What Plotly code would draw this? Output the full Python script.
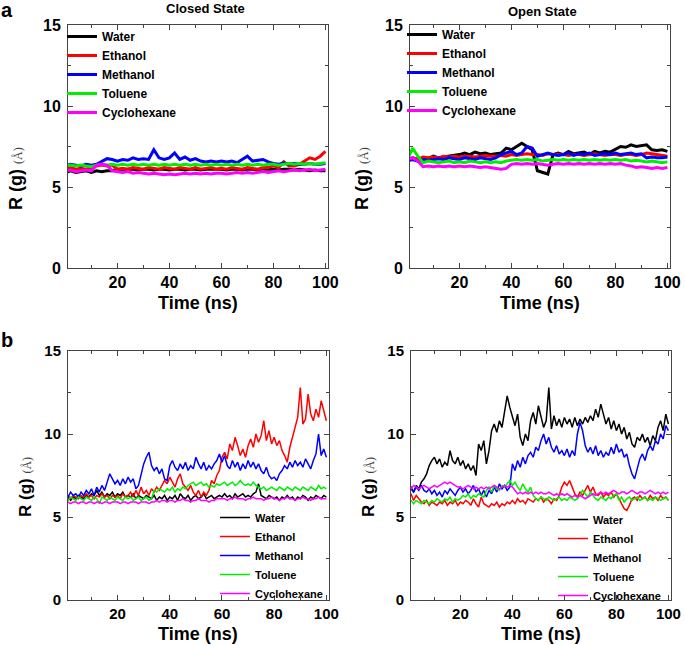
import plotly.graph_objects as go

# time axes (ns)
t_a = list(range(0, 101, 2))
t_b = list(range(0, 101))

solvents = ["Water", "Ethanol", "Methanol", "Toluene", "Cyclohexane"]
colors = ["#000000", "#ff0000", "#0000ff", "#00ee00", "#ff00ff"]

# ---- panel a, closed state (Rg in Angstrom, every 2 ns)
closed_a_water = [5.9, 6.0, 5.9, 5.95, 6.0, 5.9, 6.0, 5.95, 6.0, 6.0,
                  6.1, 6.05, 6.1, 6.1, 6.05, 6.1, 6.1, 6.05, 6.1, 6.1,
                  6.05, 6.1, 6.1, 6.05, 6.1, 6.1, 6.05, 6.1, 6.1, 6.1,
                  6.1, 6.05, 6.1, 6.1, 6.05, 6.1, 6.1, 6.05, 6.1, 6.1,
                  6.1, 6.05, 6.1, 6.1, 6.05, 6.1, 6.05, 6.0, 6.05, 6.0, 6.0]
closed_a_ethanol = [6.1, 6.2, 6.1, 6.15, 6.1, 6.2, 6.3, 6.35, 6.3, 6.35,
                    6.1, 6.15, 6.1, 6.2, 6.15, 6.1, 6.2, 6.15, 6.1, 6.2,
                    6.15, 6.1, 6.2, 6.15, 6.1, 6.2, 6.1, 6.15, 6.2, 6.1,
                    6.15, 6.1, 6.2, 6.15, 6.1, 6.2, 6.15, 6.1, 6.2, 6.2,
                    6.3, 6.2, 6.55, 6.3, 6.3, 6.4, 6.6, 6.8, 6.7, 6.9, 7.2]
closed_a_methanol = [6.3, 6.4, 6.35, 6.3, 6.4, 6.35, 6.4, 6.6, 6.75, 6.7,
                     6.6, 6.7, 6.65, 6.8, 6.7, 6.75, 6.7, 7.3, 6.8, 6.7,
                     6.8, 7.1, 6.7, 6.85, 6.65, 6.75, 6.6, 6.55, 6.6, 6.55,
                     6.6, 6.55, 6.6, 6.5, 6.7, 6.9, 6.6, 6.65, 6.7, 6.55,
                     6.45, 6.4, 6.5, 6.4, 6.45, 6.4, 6.4, 6.45, 6.4, 6.4, 6.45]
closed_a_toluene = [6.3, 6.35, 6.3, 6.35, 6.3, 6.25, 6.35, 6.4, 6.35, 6.4,
                    6.35, 6.4, 6.35, 6.4, 6.35, 6.4, 6.35, 6.4, 6.35, 6.4,
                    6.35, 6.4, 6.35, 6.4, 6.35, 6.4, 6.35, 6.4, 6.35, 6.4,
                    6.35, 6.4, 6.35, 6.4, 6.35, 6.4, 6.35, 6.4, 6.35, 6.4,
                    6.4, 6.35, 6.4, 6.45, 6.4, 6.45, 6.4, 6.45, 6.4, 6.45, 6.5]
closed_a_cyclohexane = [6.0, 6.05, 5.95, 6.0, 6.05, 6.0, 6.35, 6.4, 6.35, 6.0,
                        5.95, 5.9, 5.95, 5.85, 5.9, 5.85, 5.8, 5.85, 5.8, 5.75,
                        5.8, 5.75, 5.8, 5.85, 5.8, 5.85, 5.8, 5.85, 5.8, 5.85,
                        5.85, 5.8, 5.85, 5.9, 5.85, 5.9, 5.85, 5.9, 5.95, 5.9,
                        5.95, 6.0, 5.95, 6.0, 6.05, 6.0, 6.05, 6.1, 6.0, 6.05, 6.1]

# ---- panel a, open state
open_a_water = [6.6, 6.8, 6.7, 6.8, 6.75, 6.9, 6.8, 6.85, 6.9, 6.95,
                7.0, 7.1, 7.0, 7.15, 7.05, 7.1, 7.0, 7.05, 7.1, 7.4,
                7.3, 7.5, 7.7, 7.5, 7.3, 6.0, 5.9, 5.8, 7.0, 7.1,
                7.0, 7.2, 7.05, 7.1, 7.15, 7.0, 7.2, 7.1, 7.2, 7.15,
                7.3, 7.5, 7.45, 7.6, 7.5, 7.55, 7.6, 7.3, 7.25, 7.3, 7.2]
open_a_ethanol = [6.7, 6.8, 6.7, 6.85, 6.8, 6.85, 6.8, 6.9, 6.85, 6.9,
                  6.85, 6.9, 6.9, 6.85, 6.9, 6.95, 6.9, 6.9, 6.95, 6.9,
                  7.0, 6.95, 7.0, 7.05, 7.0, 7.0, 6.95, 7.05, 7.0, 7.0,
                  7.0, 6.95, 7.0, 7.0, 6.95, 7.0, 7.05, 7.0, 6.95, 7.0,
                  7.0, 6.95, 7.0, 7.0, 6.95, 7.0, 7.1, 7.05, 7.0, 6.95, 6.9]
open_a_methanol = [6.6, 6.7, 6.6, 6.7, 6.65, 6.7, 6.75, 6.7, 6.8, 6.75,
                   6.7, 6.8, 6.75, 6.7, 6.8, 6.75, 6.7, 6.8, 7.0, 7.1,
                   7.2, 7.0, 7.1, 7.5, 7.4, 6.9, 7.0, 7.1, 7.0, 6.95,
                   7.0, 7.1, 6.95, 7.05, 7.0, 7.1, 6.95, 7.0, 7.05, 7.0,
                   7.1, 7.0, 7.05, 7.1, 7.0, 7.05, 6.8, 6.85, 6.8, 6.8, 6.85]
open_a_toluene = [6.7, 7.4, 6.9, 6.5, 6.6, 6.55, 6.5, 6.55, 6.6, 6.5,
                  6.55, 6.5, 6.6, 6.55, 6.5, 6.55, 6.5, 6.55, 6.5, 6.6,
                  6.65, 6.7, 6.65, 6.7, 6.65, 6.7, 6.6, 6.65, 6.7, 6.65,
                  6.7, 6.65, 6.7, 6.65, 6.7, 6.65, 6.7, 6.65, 6.7, 6.65,
                  6.7, 6.65, 6.7, 6.6, 6.65, 6.6, 6.55, 6.6, 6.55, 6.5, 6.55]
open_a_cyclohexane = [6.7, 6.8, 6.6, 6.25, 6.3, 6.25, 6.3, 6.25, 6.3, 6.25,
                      6.3, 6.25, 6.3, 6.25, 6.2, 6.25, 6.2, 6.15, 6.1, 6.15,
                      6.4, 6.45, 6.4, 6.45, 6.4, 6.45, 6.4, 6.35, 6.4, 6.45,
                      6.4, 6.45, 6.4, 6.45, 6.4, 6.45, 6.4, 6.45, 6.4, 6.45,
                      6.4, 6.45, 6.35, 6.3, 6.2, 6.25, 6.2, 6.15, 6.2, 6.15, 6.2]

# ---- panel b, closed state (every 1 ns)
closed_b_water = [6.1, 6.2, 6.0, 6.2, 6.1, 6.3, 6.2, 6.1, 6.3, 6.2,
                  6.4, 6.3, 6.6, 6.3, 6.5, 6.2, 6.4, 6.3, 6.5, 6.2,
                  6.4, 6.3, 6.5, 6.2, 6.3, 6.2, 6.4, 6.1, 6.3, 6.2,
                  6.1, 6.3, 6.2, 6.1, 6.3, 6.0, 6.2, 6.1, 6.3, 6.0,
                  6.2, 6.1, 6.3, 6.0, 6.4, 6.2, 6.1, 6.3, 6.0, 6.2,
                  6.3, 6.1, 6.2, 6.4, 6.1, 6.2, 6.3, 6.1, 6.2, 6.3,
                  6.2, 6.4, 6.2, 6.3, 6.1, 6.4, 6.2, 6.3, 6.4, 6.2,
                  6.3, 6.2, 6.4, 6.5, 7.0, 6.3, 6.2, 6.1, 6.3, 6.2,
                  6.1, 6.2, 6.0, 6.2, 6.1, 6.3, 6.1, 6.2, 6.0, 6.2,
                  6.1, 6.3, 6.2, 6.0, 6.2, 6.1, 6.3, 6.2, 6.1, 6.3, 6.2]
closed_b_ethanol = [6.2, 6.3, 6.1, 6.3, 6.2, 6.1, 6.3, 6.2, 6.4, 6.2,
                    6.3, 6.1, 6.3, 6.2, 6.4, 6.2, 6.3, 6.1, 6.3, 6.2,
                    6.3, 6.1, 6.4, 6.2, 6.3, 6.5, 6.2, 6.6, 6.3, 6.8,
                    6.4, 6.6, 6.3, 6.7, 6.5, 6.8, 6.6, 6.9, 7.2, 7.0,
                    7.4, 7.1, 6.8, 7.3, 7.6, 7.0, 6.8, 6.6, 6.9, 6.5,
                    6.3, 6.6, 6.2, 6.5, 6.3, 6.6, 7.2, 7.0, 7.5, 7.8,
                    8.6, 8.9, 8.5, 9.4, 9.0, 9.8, 9.3, 8.7, 9.1, 8.6,
                    9.3, 9.7, 9.2, 10.0, 9.5, 9.9, 10.8, 9.6, 10.2, 9.4,
                    9.8, 9.3, 9.6, 9.0, 8.7, 8.3, 9.2, 9.9, 10.4, 11.0,
                    12.8, 10.6, 10.9, 12.4, 11.2, 10.8, 11.5, 11.0, 12.0, 11.4, 10.8]
closed_b_methanol = [6.4, 6.2, 6.5, 6.3, 6.4, 6.2, 6.5, 6.3, 6.6, 6.4,
                     6.7, 6.3, 6.8, 6.5, 6.9, 6.6, 7.1, 7.6, 7.3, 7.0,
                     7.2, 6.9, 7.3, 7.0, 7.4, 7.1, 7.3, 6.7, 6.9, 7.6,
                     8.2, 8.6, 8.9, 8.1, 7.8, 8.0, 7.6, 7.9, 7.3, 7.2,
                     8.1, 8.4, 8.0, 7.8, 8.2, 7.9, 8.3, 7.8, 8.1, 7.9,
                     8.6, 8.2, 7.9, 8.3, 7.8, 8.1, 7.9, 8.2, 8.4, 8.8,
                     8.3, 8.7, 8.1, 7.9, 8.4, 8.0, 8.3, 7.8, 8.2, 7.9,
                     8.4, 8.0, 8.3, 7.9, 8.2, 7.8, 7.6, 8.0, 7.5, 7.3,
                     7.4, 7.2, 7.6, 7.8, 8.1, 7.9, 8.3, 8.0, 8.4, 8.1,
                     8.3, 8.0, 8.5, 8.2, 7.9, 8.4, 8.8, 10.0, 8.7, 9.1, 8.6]
closed_b_toluene = [6.1, 6.0, 6.2, 6.1, 6.0, 6.2, 6.1, 6.0, 6.2, 6.1,
                    6.0, 6.2, 6.1, 5.8, 6.2, 6.1, 6.0, 6.2, 6.1, 6.0,
                    6.2, 6.1, 6.0, 6.2, 6.1, 6.2, 6.0, 6.1, 6.2, 6.0,
                    6.1, 6.2, 6.0, 6.1, 6.6, 6.5, 6.7, 6.6, 6.5, 6.7,
                    6.6, 6.8, 6.5, 6.7, 6.6, 6.8, 6.7, 6.9, 7.0, 7.1,
                    6.9, 7.0, 7.1, 6.9, 7.0, 6.8, 6.9, 6.8, 7.0, 6.9,
                    7.0, 7.1, 6.9, 7.0, 7.1, 6.9, 7.0, 7.2, 7.0, 6.9,
                    7.0, 6.9, 7.1, 6.9, 6.8, 6.7, 6.8, 6.6, 6.7, 6.8,
                    6.7, 6.6, 6.8, 6.7, 6.6, 6.8, 6.7, 6.6, 6.8, 6.7,
                    6.6, 6.8, 6.7, 6.6, 6.8, 6.7, 6.6, 6.9, 6.7, 6.8, 6.7]
closed_b_cyclohexane = [5.8, 5.9, 5.8, 5.9, 5.9, 5.8, 5.9, 5.9, 5.8, 5.9,
                        5.9, 5.8, 5.9, 5.9, 5.8, 5.9, 5.9, 5.8, 5.9, 5.9,
                        5.9, 5.8, 5.9, 5.9, 5.8, 5.9, 5.9, 5.9, 5.8, 5.9,
                        5.9, 5.9, 5.8, 5.9, 5.9, 6.0, 5.9, 6.0, 6.0, 5.9,
                        6.0, 6.0, 5.9, 6.0, 6.0, 6.1, 6.0, 6.0, 5.9, 6.0,
                        6.0, 6.1, 6.0, 6.0, 6.0, 5.9, 6.0, 6.0, 6.1, 6.1,
                        6.1, 6.1, 6.0, 6.1, 6.1, 6.2, 6.1, 6.1, 6.1, 6.0,
                        6.1, 6.1, 6.2, 6.1, 6.1, 6.1, 6.0, 6.1, 6.1, 6.2,
                        6.1, 6.1, 6.0, 6.1, 6.1, 6.2, 6.1, 6.1, 6.0, 6.1,
                        6.1, 6.2, 6.1, 6.1, 6.0, 6.1, 6.1, 6.2, 6.1, 6.1, 6.1]

# ---- panel b, open state
open_b_water = [6.6, 6.8, 6.5, 6.9, 6.7, 7.1, 7.3, 7.6, 8.1, 8.4,
                8.6, 8.2, 8.5, 8.0, 8.3, 8.1, 9.0, 8.4, 8.2, 8.6,
                8.1, 8.4, 7.9, 8.2, 7.8, 8.1, 7.5, 9.4, 9.0, 9.6,
                8.2, 9.0, 10.2, 10.6, 10.1, 10.8, 10.4, 11.5, 12.3, 11.6,
                11.0, 10.5, 11.2, 9.8, 9.3, 10.0, 9.6, 10.8, 11.3, 10.6,
                11.7, 11.0, 10.4, 10.8, 12.8, 10.3, 11.1, 10.5, 10.9, 10.4,
                11.0, 10.6, 10.9, 10.4, 11.0, 10.5, 10.9, 10.6, 11.0, 10.7,
                11.1, 10.8, 11.5, 11.0, 11.8, 11.2, 10.6, 11.0, 10.3, 10.8,
                10.2, 10.6, 10.0, 10.4, 9.7, 10.1, 9.4, 9.2, 9.8, 9.6,
                10.0, 9.5, 9.8, 9.3, 9.9, 9.6, 10.4, 10.8, 10.2, 11.2, 10.6]
open_b_ethanol = [6.2, 6.4, 6.0, 6.3, 6.1, 5.9, 5.8, 6.0, 5.7, 5.9,
                  5.8, 5.7, 5.9, 5.8, 6.0, 5.7, 5.9, 5.8, 6.0, 5.7,
                  5.9, 5.8, 6.0, 5.9, 5.7, 6.1, 5.8, 5.6, 6.2, 5.8,
                  5.7, 5.6, 5.8, 5.7, 5.9, 5.6, 5.8, 5.7, 5.9, 5.8,
                  6.0, 5.8, 6.1, 5.9, 6.0, 5.8, 6.1, 6.0, 5.9, 6.1,
                  6.0, 6.2, 5.9, 6.1, 6.0, 5.8, 6.1, 6.0, 6.3, 6.8,
                  7.1, 6.9, 7.2, 6.8, 6.4, 6.2, 6.5, 6.3, 6.6, 6.9,
                  6.5, 6.8, 6.4, 6.3, 6.5, 6.2, 6.4, 6.3, 6.5, 6.2,
                  6.4, 6.1, 5.8, 5.5, 5.4, 5.7, 6.1, 6.2, 6.0, 6.3,
                  6.1, 6.2, 6.0, 6.3, 6.1, 6.2, 6.0, 6.3, 6.1, 6.2, 6.0]
open_b_methanol = [6.4, 6.7, 6.5, 6.8, 6.6, 6.9, 6.6, 6.5, 6.7, 6.4,
                   6.6, 6.3, 6.5, 6.2, 6.6, 6.4, 6.7, 6.5, 6.3, 6.6,
                   6.8, 6.5, 6.7, 6.4, 6.6, 6.9, 6.5, 6.7, 6.3, 6.6,
                   6.2, 6.6, 6.4, 6.8, 6.5, 7.0, 6.7, 6.9, 6.6, 6.8,
                   8.2, 7.8, 8.4, 8.0, 8.6, 8.2, 8.7, 8.9, 8.6, 9.2,
                   9.0, 9.6, 10.0, 9.4, 9.8, 9.2, 8.9, 9.3, 8.8, 9.0,
                   8.7, 9.1, 8.6, 9.0, 8.7, 10.0, 10.7, 10.2, 9.3, 8.9,
                   9.2, 8.8, 9.3, 8.7, 9.0, 8.6, 8.9, 8.7, 9.2, 8.8,
                   9.4, 8.9, 9.1, 8.6, 8.8, 8.1, 7.6, 7.3, 8.0, 8.5,
                   8.8, 8.4, 9.0, 9.3, 9.0, 9.6, 9.4, 10.0, 9.7, 10.5, 10.2]
open_b_toluene = [5.9, 6.0, 5.8, 6.0, 5.9, 5.8, 6.0, 5.9, 5.8, 6.0,
                  5.9, 6.1, 6.0, 5.9, 6.1, 6.0, 6.2, 5.9, 6.1, 6.0,
                  6.1, 6.3, 6.2, 6.4, 6.1, 6.3, 6.2, 6.4, 6.3, 6.2,
                  6.6, 6.8, 6.5, 6.9, 6.7, 6.6, 6.9, 6.8, 7.0, 7.2,
                  6.9, 7.1, 6.8, 6.6, 7.0, 6.7, 6.5, 6.8, 6.3, 6.1,
                  6.0, 6.2, 6.1, 6.0, 6.2, 6.1, 6.0, 6.1, 6.2, 6.0,
                  6.1, 6.0, 6.2, 6.1, 6.0, 6.1, 6.3, 6.6, 6.4, 6.2,
                  6.5, 6.3, 6.1, 6.0, 6.2, 6.1, 6.0, 6.2, 6.1, 6.3,
                  6.4, 6.0, 6.2, 5.9, 6.1, 6.2, 6.0, 6.1, 6.2, 6.0,
                  6.1, 6.2, 6.0, 6.1, 6.0, 6.2, 6.1, 6.0, 6.1, 6.2, 6.0]
open_b_cyclohexane = [6.8, 6.7, 6.9, 6.8, 6.7, 6.8, 6.9, 6.8, 6.7, 6.8,
                      6.9, 6.8, 6.9, 7.0, 7.1, 7.0, 7.1, 7.0, 6.9, 6.8,
                      6.8, 6.7, 6.8, 6.9, 6.8, 6.7, 6.8, 6.7, 6.8, 6.7,
                      6.8, 6.7, 6.8, 6.9, 6.8, 6.7, 6.8, 6.9, 6.8, 6.9,
                      6.8, 6.6, 6.4, 6.5, 6.4, 6.5, 6.4, 6.5, 6.4, 6.5,
                      6.4, 6.5, 6.4, 6.4, 6.5, 6.4, 6.3, 6.4, 6.3, 6.4,
                      6.3, 6.4, 6.3, 6.2, 6.3, 6.2, 6.3, 6.2, 6.1, 6.2,
                      6.3, 6.4, 6.3, 6.4, 6.5, 6.4, 6.5, 6.4, 6.5, 6.6,
                      6.5, 6.4, 6.5, 6.5, 6.4, 6.5, 6.6, 6.5, 6.4, 6.5,
                      6.5, 6.4, 6.5, 6.6, 6.5, 6.4, 6.5, 6.4, 6.5, 6.4, 6.5]

panels = [
    # (x, series, axis suffix, legend name, line width)
    (t_a, [closed_a_water, closed_a_ethanol, closed_a_methanol, closed_a_toluene, closed_a_cyclohexane], "", "legend", 3),
    (t_a, [open_a_water, open_a_ethanol, open_a_methanol, open_a_toluene, open_a_cyclohexane], "2", "legend2", 3),
    (t_b, [closed_b_water, closed_b_ethanol, closed_b_methanol, closed_b_toluene, closed_b_cyclohexane], "3", "legend3", 1.5),
    (t_b, [open_b_water, open_b_ethanol, open_b_methanol, open_b_toluene, open_b_cyclohexane], "4", "legend4", 1.5),
]

FONT = "Arial, Liberation Sans, sans-serif"

fig = go.Figure()
for x, series, ax, leg, lw in panels:
    for name, y, col in zip(solvents, series, colors):
        fig.add_trace(go.Scatter(
            x=x, y=y, mode="lines", name=name,
            line=dict(color=col, width=lw),
            xaxis="x" + ax, yaxis="y" + ax, legend=leg,
        ))


def xax(domain, anchor, size):
    return dict(domain=domain, anchor=anchor, range=[1, 101], dtick=20, tick0=0,
                ticks="inside", ticklen=5, tickcolor="#444",
                minor=dict(ticks="inside", ticklen=3, dtick=10, tickcolor="#444"),
                showline=True, linecolor="#444", linewidth=1, mirror="ticks",
                showgrid=False, zeroline=False,
                tickfont=dict(family=FONT, size=size, color="#000", weight="bold"))


def yax(domain, anchor, size):
    return dict(domain=domain, anchor=anchor, range=[0, 15], dtick=5, tick0=0,
                ticks="inside", ticklen=5, tickcolor="#444",
                minor=dict(ticks="inside", ticklen=3, dtick=2.5, tickcolor="#444"),
                showline=True, linecolor="#444", linewidth=1, mirror="ticks",
                showgrid=False, zeroline=False, ticklabelstandoff=3,
                tickfont=dict(family=FONT, size=size, color="#000", weight="bold"))


W, H = 685, 645


def px_x(p):
    return p / W


def px_y(p):
    return 1 - p / H


top = [px_y(268), px_y(25)]
bot = [px_y(600), px_y(351)]

leg_font = dict(family=FONT, size=12, color="#000", weight="bold")
leg_font_b = dict(family=FONT, size=11, color="#000", weight="bold")

fig.update_layout(
    width=W, height=H,
    margin=dict(l=0, r=0, t=0, b=0, autoexpand=False),
    paper_bgcolor="white", plot_bgcolor="white",
    font=dict(family=FONT, color="#000"),
    xaxis=xax([px_x(68), px_x(328)], "y", 16),
    yaxis=yax(top, "x", 16),
    xaxis2=xax([px_x(410), px_x(670)], "y2", 16),
    yaxis2=yax(top, "x2", 16),
    xaxis3=xax([px_x(68), px_x(329)], "y3", 15),
    yaxis3=yax(bot, "x3", 15),
    xaxis4=xax([px_x(411), px_x(671)], "y4", 15),
    yaxis4=yax(bot, "x4", 15),
    legend=dict(x=px_x(62), y=px_y(22), xanchor="left", yanchor="top",
                bgcolor="rgba(0,0,0,0)", font=leg_font),
    legend2=dict(x=px_x(402), y=px_y(20), xanchor="left", yanchor="top",
                 bgcolor="rgba(0,0,0,0)", font=leg_font),
    legend3=dict(x=px_x(215), y=px_y(503), xanchor="left", yanchor="top",
                 bgcolor="rgba(0,0,0,0)", font=leg_font_b),
    legend4=dict(x=px_x(553), y=px_y(505), xanchor="left", yanchor="top",
                 bgcolor="rgba(0,0,0,0)", font=leg_font_b),
)

rg = "<b>R (g)</b> <span style='font-family:Liberation Serif;font-size:12px;color:#444'>(Å)</span>"
notes = [
    ("<b>a</b>", 7, 10, 20, 0),
    ("<b>b</b>", 7, 340, 20, 0),
    ("<b>Closed State</b>", 205, 9, 13, 0),
    ("<b>Open State</b>", 542, 12, 13, 0),
    ("<b>Time (ns)</b>", 198, 303, 18, 0),
    ("<b>Time (ns)</b>", 540, 303, 18, 0),
    ("<b>Time (ns)</b>", 198, 634, 18, 0),
    ("<b>Time (ns)</b>", 541, 634, 18, 0),
    (rg, 16, 179, 18, -90),
    (rg, 362, 179, 18, -90),
    (rg, 25, 487, 17, -90),
    (rg, 368, 487, 17, -90),
]
for text, x, y, size, ang in notes:
    fig.add_annotation(text=text, xref="paper", yref="paper", x=px_x(x), y=px_y(y),
                       xanchor="center", yanchor="middle", showarrow=False,
                       textangle=ang, font=dict(family=FONT, size=size, color="#000"))

# drop the default body margin so the figure sits flush in the window
fig.write_html("out.html", config={"displayModeBar": False},
               post_script="document.body.style.margin = '0';")
